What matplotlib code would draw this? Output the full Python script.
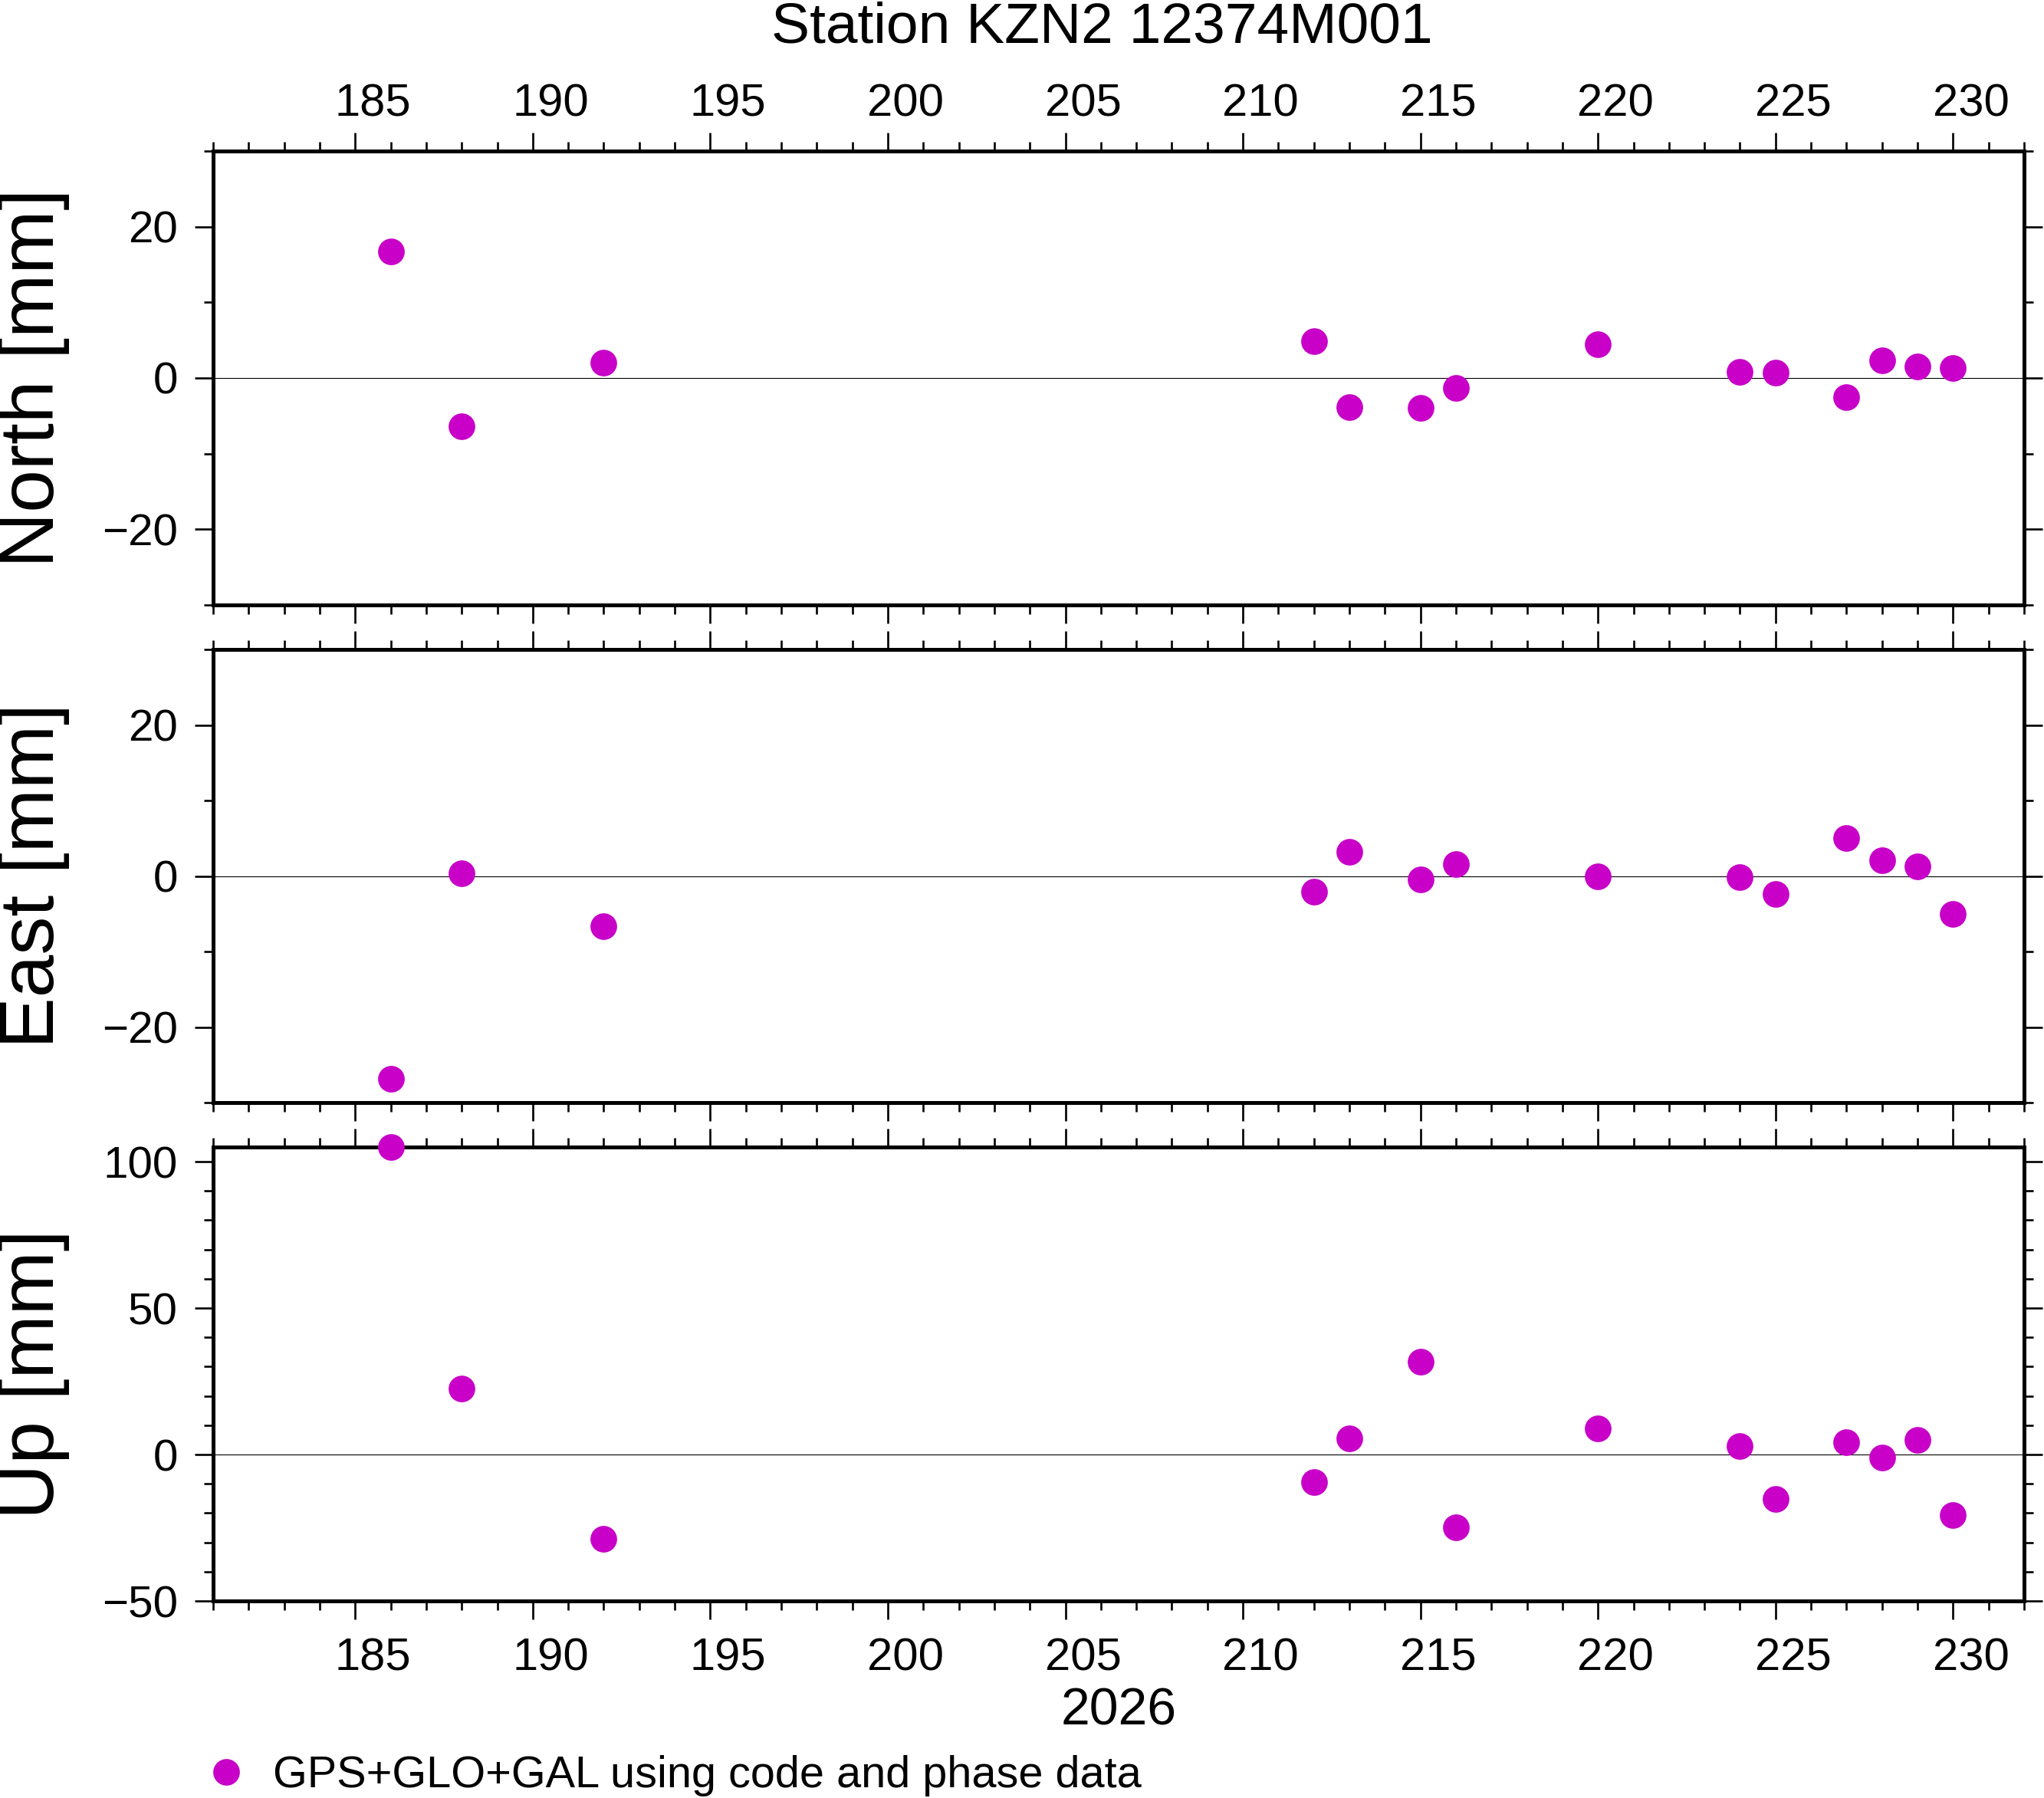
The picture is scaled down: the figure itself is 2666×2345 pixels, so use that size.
import matplotlib
matplotlib.use("Agg")
import matplotlib.pyplot as plt
from matplotlib.ticker import MultipleLocator, FixedLocator
from matplotlib.transforms import ScaledTranslation

plt.rcParams['font.family'] = ['Liberation Sans', 'DejaVu Sans']

# day of year 2026
days = [186, 188, 192, 212, 213, 215, 216, 220, 224, 225, 227, 228, 229, 230]
north = [16.7, -6.4, 2.0, 4.9, -3.9, -4.0, -1.3, 4.5, 0.8, 0.7, -2.5, 2.3, 1.5, 1.3]
east = [-26.9, 0.4, -6.7, -2.1, 3.2, -0.5, 1.6, -0.1, -0.2, -2.4, 5.0, 2.1, 1.3, -5.0]
up = [105.0, 22.4, -28.7, -9.5, 5.6, 31.6, -24.8, 8.8, 3.0, -15.1, 4.3, -1.0, 5.1, -20.6]
day_ticks = [185, 190, 195, 200, 205, 210, 215, 220, 225, 230]

title = "Station KZN2 12374M001"
legend_label = "GPS+GLO+GAL using code and phase data"
color = "#c800c8"

W, H = 2666, 2345
fig = plt.figure(figsize=(W / 100, H / 100), dpi=100)

left, right = 278, 2640
px_per_day = (right - left) / (232 - 181)
# day labels sit in the middle of the day, half a day right of the tick
shift = ScaledTranslation(0.5 * px_per_day / 100, 0, fig.dpi_scale_trans)

panels = [
    ("North [mm]", north, (197, 789), (-30, 30), 20, 10),
    ("East [mm]", east, (847, 1438), (-30, 30), 20, 10),
    ("Up [mm]", up, (1496, 2088), (-50, 105), 50, 10),
]

for i, (label, vals, (top, bot), ylim, major, minor) in enumerate(panels):
    ax = fig.add_axes([left / W, 1 - bot / H, (right - left) / W, (bot - top) / H])
    line, = ax.plot(days, vals, 'o', color=color, markersize=25,
                    markeredgewidth=0, clip_on=False, zorder=5)
    ax.axhline(0, color='k', lw=0.8, zorder=1)
    ax.set_xlim(181, 232)
    ax.set_ylim(*ylim)
    ax.xaxis.set_major_locator(FixedLocator(day_ticks))
    ax.xaxis.set_minor_locator(MultipleLocator(1))
    ax.yaxis.set_major_locator(MultipleLocator(major))
    ax.yaxis.set_minor_locator(MultipleLocator(minor))
    for s in ax.spines.values():
        s.set_linewidth(3.6)
    ax.tick_params(which='both', direction='out', top=True, right=True, width=1.9)
    ax.tick_params(which='major', length=17.3)
    ax.tick_params(which='minor', length=8.6)
    ax.tick_params(axis='y', pad=16, labelsize=42)
    ax.tick_params(axis='x', labelbottom=(i == 2), labeltop=(i == 0),
                   pad=(7 if i == 0 else 17), labelsize=43)
    for t in ax.xaxis.get_major_ticks():
        t.label1.set_transform(t.label1.get_transform() + shift)
        t.label2.set_transform(t.label2.get_transform() + shift)
    fig.text(-3 / W, 1 - (top + bot) / 2 / H, label, rotation=90,
             fontsize=72, ha='left', va='center')

fig.text(1437 / W, 1 - 56 / H, title, fontsize=54, ha='center', va='baseline')
fig.text(1459 / W, 1 - 2250 / H, "2026", fontsize=49, ha='center', va='baseline')

fig.legend(handles=[line], labels=[legend_label], loc='center left',
           bbox_to_anchor=(266 / W, 1 - 2316 / H), frameon=False,
           borderaxespad=0, borderpad=0, handlelength=1.0,
           handletextpad=0.56, fontsize=41.5)

fig.savefig("out.png", dpi=100)
